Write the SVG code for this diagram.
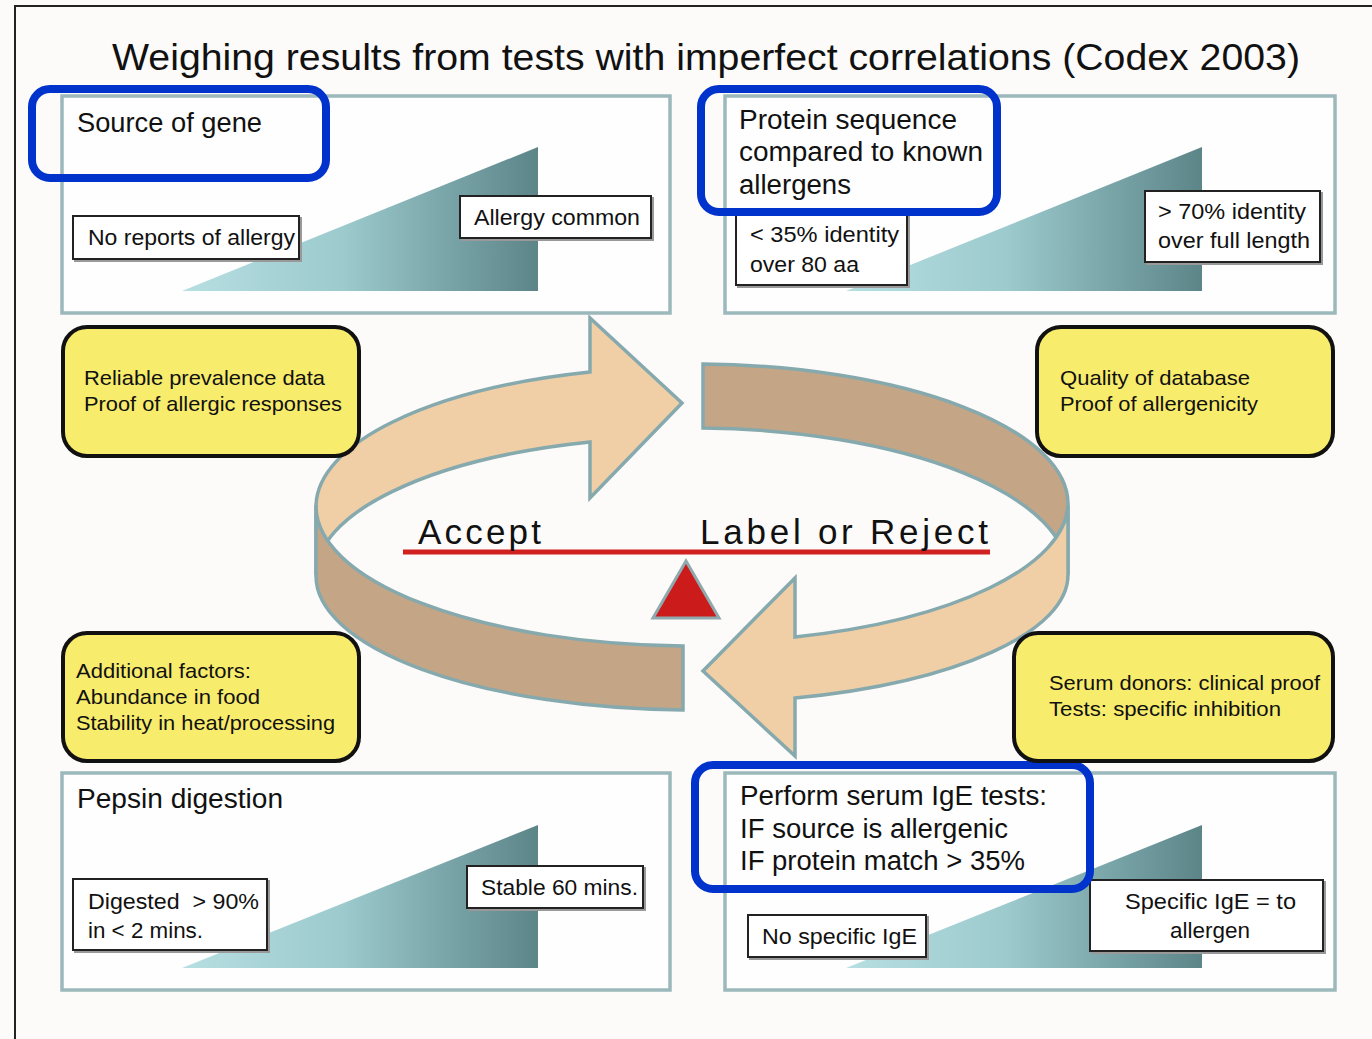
<svg xmlns="http://www.w3.org/2000/svg" width="1372" height="1039" viewBox="0 0 1372 1039">
<defs>
<linearGradient id="ramp" x1="0" y1="0" x2="1" y2="0">
<stop offset="0" stop-color="#b7dfe2"/>
<stop offset="0.45" stop-color="#9ccacd"/>
<stop offset="1" stop-color="#5c8588"/>
</linearGradient>
<style>
.t{font-family:"Liberation Sans",Arial,sans-serif;fill:#111}
.ttl{font-size:37px}
.ph{font-size:27px}
.lb{font-size:22px}
.yt{font-size:21px}
.panel{fill:#fefefe;stroke:#9bb8bb;stroke-width:3.5}
.blue{fill:none;stroke:#0033cc;stroke-width:8}
.yel{fill:#f8ec6c;stroke:#111;stroke-width:4}
.box{fill:#fff;stroke:#222;stroke-width:2}
.shadow{fill:none;stroke:#999;stroke-width:2}
.ramp{fill:url(#ramp)}
.arrL{fill:#f0cfa6;stroke:#86a9ae;stroke-width:3.5;stroke-linejoin:miter}
.arrD{fill:#c4a585;stroke:#86a9ae;stroke-width:3.5;stroke-linejoin:miter}
.big{font-size:35px}
</style>
</defs>
<rect x="0" y="0" width="1372" height="1039" fill="#fcfbfa"/>
<rect x="15" y="6" width="1400" height="1100" fill="none" stroke="#222" stroke-width="2"/>

<text class="t ttl" x="112" y="70" textLength="1188" lengthAdjust="spacingAndGlyphs">Weighing results from tests with imperfect correlations (Codex 2003)</text>

<g id="connectors">
<path class="arrL" d="M 590,372 A 376 140 0 0 0 316,505 L 316,575 A 376 138 0 0 1 590,442 L 590,498 L 682,403 L 590,318 Z"/>
<path class="arrD" d="M 703,364 A 376 140 0 0 1 1068,505 L 1068,575 A 376 146 0 0 0 703,428 Z"/>
<path class="arrD" d="M 683,646 A 376 140 0 0 1 316,505 L 316,575 A 376 134 0 0 0 683,710 Z"/>
<path class="arrL" d="M 1068,505 A 376 140 0 0 1 795,637 L 795,578 L 703,671 L 795,756 L 795,698 A 376 128 0 0 0 1068,575 Z"/>
</g>

<g id="panel-source-of-gene">
<rect class="panel" x="62" y="96" width="608" height="217"/>
<polygon class="ramp" points="182,291 538,147 538,291"/>
<text class="t ph" x="77" y="132" textLength="185" lengthAdjust="spacingAndGlyphs">Source of gene</text>
<rect class="shadow" x="75" y="218" width="226" height="43"/>
<rect class="box" x="73" y="216" width="226" height="43"/>
<text class="t lb" x="88" y="245" textLength="207" lengthAdjust="spacingAndGlyphs">No reports of allergy</text>
<rect class="shadow" x="462" y="198" width="191" height="42"/>
<rect class="box" x="460" y="196" width="191" height="42"/>
<text class="t lb" x="474" y="225" textLength="166" lengthAdjust="spacingAndGlyphs">Allergy common</text>
<rect class="blue" x="32" y="89" width="294" height="89" rx="18"/>
</g>

<g id="panel-protein-sequence">
<rect class="panel" x="725" y="96" width="610" height="217"/>
<polygon class="ramp" points="846,291 1202,147 1202,291"/>
<text class="t ph" x="739" y="129" textLength="218" lengthAdjust="spacingAndGlyphs">Protein sequence</text>
<text class="t ph" x="739" y="161" textLength="244" lengthAdjust="spacingAndGlyphs">compared to known</text>
<text class="t ph" x="739" y="194" textLength="112" lengthAdjust="spacingAndGlyphs">allergens</text>
<rect class="shadow" x="738" y="217" width="171" height="70"/>
<rect class="box" x="736" y="215" width="171" height="70"/>
<text class="t lb" x="750" y="242" textLength="149" lengthAdjust="spacingAndGlyphs">&lt; 35% identity</text>
<text class="t lb" x="750" y="272" textLength="109" lengthAdjust="spacingAndGlyphs">over 80 aa</text>
<rect class="shadow" x="1147" y="193" width="175" height="71"/>
<rect class="box" x="1145" y="191" width="175" height="71"/>
<text class="t lb" x="1158" y="219" textLength="148" lengthAdjust="spacingAndGlyphs">&gt; 70% identity</text>
<text class="t lb" x="1158" y="248" textLength="152" lengthAdjust="spacingAndGlyphs">over full length</text>
<rect class="blue" x="701" y="89" width="296" height="123" rx="18"/>
</g>

<g id="panel-pepsin-digestion">
<rect class="panel" x="62" y="773" width="608" height="217"/>
<polygon class="ramp" points="182,968 538,825 538,968"/>
<text class="t ph" x="77" y="808" textLength="206" lengthAdjust="spacingAndGlyphs">Pepsin digestion</text>
<rect class="shadow" x="75" y="881" width="194" height="71"/>
<rect class="box" x="73" y="879" width="194" height="71"/>
<text class="t lb" x="88" y="909" textLength="171" lengthAdjust="spacingAndGlyphs" xml:space="preserve">Digested  &gt; 90%</text>
<text class="t lb" x="88" y="938" textLength="115" lengthAdjust="spacingAndGlyphs">in &lt; 2 mins.</text>
<rect class="shadow" x="469" y="868" width="176" height="42"/>
<rect class="box" x="467" y="866" width="176" height="42"/>
<text class="t lb" x="481" y="895" textLength="157" lengthAdjust="spacingAndGlyphs">Stable 60 mins.</text>
</g>

<g id="panel-serum-ige">
<rect class="panel" x="725" y="773" width="610" height="217"/>
<polygon class="ramp" points="846,968 1202,825 1202,968"/>
<text class="t ph" x="740" y="805" textLength="307" lengthAdjust="spacingAndGlyphs">Perform serum IgE tests:</text>
<text class="t ph" x="740" y="838" textLength="268" lengthAdjust="spacingAndGlyphs">IF source is allergenic</text>
<text class="t ph" x="740" y="870" textLength="285" lengthAdjust="spacingAndGlyphs">IF protein match &gt; 35%</text>
<rect class="shadow" x="750" y="917" width="178" height="42"/>
<rect class="box" x="748" y="915" width="178" height="42"/>
<text class="t lb" x="762" y="944" textLength="155" lengthAdjust="spacingAndGlyphs">No specific IgE</text>
<rect class="shadow" x="1092" y="882" width="233" height="71"/>
<rect class="box" x="1090" y="880" width="233" height="71"/>
<text class="t lb" x="1125" y="909" textLength="171" lengthAdjust="spacingAndGlyphs">Specific IgE = to</text>
<text class="t lb" x="1170" y="938" textLength="80" lengthAdjust="spacingAndGlyphs">allergen</text>
<rect class="blue" x="695" y="765" width="395" height="124" rx="18"/>
</g>

<g id="note-prevalence">
<rect class="yel" x="63" y="327" width="296" height="129" rx="24"/>
<text class="t yt" x="84" y="385" textLength="241" lengthAdjust="spacingAndGlyphs">Reliable prevalence data</text>
<text class="t yt" x="84" y="411" textLength="258" lengthAdjust="spacingAndGlyphs">Proof of allergic responses</text>
</g>

<g id="note-database">
<rect class="yel" x="1037" y="327" width="296" height="129" rx="24"/>
<text class="t yt" x="1060" y="385" textLength="190" lengthAdjust="spacingAndGlyphs">Quality of database</text>
<text class="t yt" x="1060" y="411" textLength="198" lengthAdjust="spacingAndGlyphs">Proof of allergenicity</text>
</g>

<g id="note-additional">
<rect class="yel" x="63" y="633" width="296" height="128" rx="24"/>
<text class="t yt" x="76" y="678" textLength="175" lengthAdjust="spacingAndGlyphs">Additional factors:</text>
<text class="t yt" x="76" y="704" textLength="184" lengthAdjust="spacingAndGlyphs">Abundance in food</text>
<text class="t yt" x="76" y="730" textLength="259" lengthAdjust="spacingAndGlyphs">Stability in heat/processing</text>
</g>

<g id="note-serum">
<rect class="yel" x="1014" y="633" width="319" height="128" rx="24"/>
<text class="t yt" x="1049" y="690" textLength="271" lengthAdjust="spacingAndGlyphs">Serum donors: clinical proof</text>
<text class="t yt" x="1049" y="716" textLength="232" lengthAdjust="spacingAndGlyphs">Tests: specific inhibition</text>
</g>

<g id="balance">
<line x1="403" y1="552" x2="990" y2="552" stroke="#d02020" stroke-width="5"/>
<polygon points="686,561 653,618 719,618" fill="#cc1b1b" stroke="#8fa9ad" stroke-width="3"/>
<text class="t big" x="418" y="544" textLength="123" lengthAdjust="spacing">Accept</text>
<text class="t big" x="700" y="544" textLength="288" lengthAdjust="spacing">Label or Reject</text>
</g>
</svg>
